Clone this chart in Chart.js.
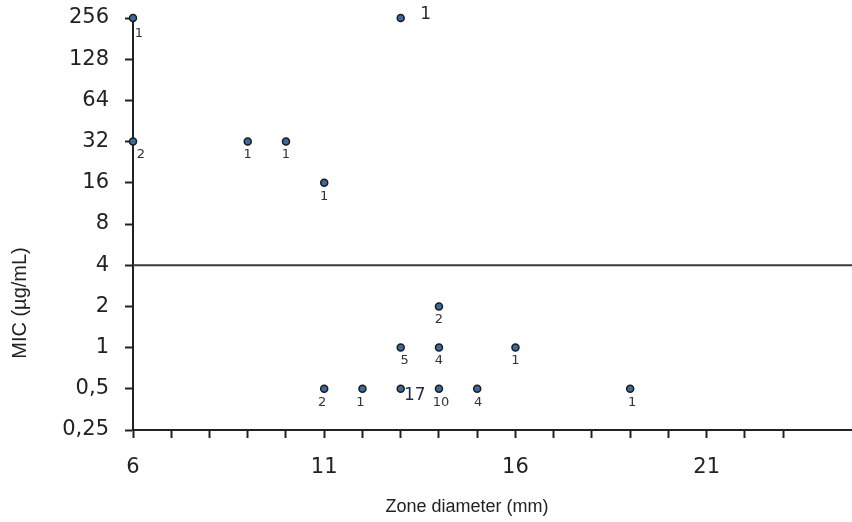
<!DOCTYPE html>
<html>
<head>
<meta charset="utf-8">
<script src="https://cdn.jsdelivr.net/npm/chart.js@4.4.1/dist/chart.umd.min.js"></script>
<style>
  html, body { margin: 0; padding: 0; background: #fff; }
  #wrap { position: relative; width: 852px; height: 522px; }
</style>
</head>
<body>
<div id="wrap"><canvas id="micChart"></canvas></div>
<script>
// zone diameter (mm), MIC (ug/mL) and number of isolates at each point
const zoneDiameter = [6, 6, 9, 10, 11, 13, 14, 13, 14, 16, 11, 12, 13, 14, 15, 19];
const micValue = [256, 32, 32, 32, 16, 256, 2, 1, 1, 1, 0.5, 0.5, 0.5, 0.5, 0.5, 0.5];
const isolateCount = [1, 2, 1, 1, 1, 1, 2, 5, 4, 1, 2, 1, 17, 10, 4, 1];

const yTicks = [0.25, 0.5, 1, 2, 4, 8, 16, 32, 64, 128, 256];
const xLabelled = [6, 11, 16, 21];
const breakpoint = 4;

// where each count label sits next to its point
const labelOffsets = [[6, 16], [8, 13], [0, 13], [0, 13], [0, 14], [25, -3], [0, 13],
  [4, 13], [0, 13], [0, 13], [-2, 14], [-2, 14], [14, 7], [2, 14], [1, 14], [2, 14]];
const bigLabels = [5, 12];

const countLabels = {
  id: 'countLabels',
  afterDatasetsDraw(chart) {
    const meta = chart.getDatasetMeta(1);
    const ctx = chart.ctx;
    ctx.save();
    ctx.textAlign = 'center';
    ctx.textBaseline = 'middle';
    meta.data.forEach((pt, i) => {
      const big = bigLabels.includes(i);
      ctx.font = big ? '17px "DejaVu Sans"' : '13px "DejaVu Sans"';
      ctx.fillStyle = big ? '#1f2a44' : '#333';
      ctx.fillText(String(isolateCount[i]), pt.x + labelOffsets[i][0], pt.y + labelOffsets[i][1]);
    });
    ctx.restore();
  }
};

const axisTitles = {
  id: 'axisTitles',
  afterDraw(chart) {
    const ctx = chart.ctx;
    ctx.save();
    ctx.fillStyle = '#222';
    ctx.textAlign = 'center';
    ctx.textBaseline = 'middle';
    ctx.font = '18px "Liberation Sans", sans-serif';
    ctx.fillText('Zone diameter (mm)', 467, 507);
    ctx.translate(20, 303);
    ctx.rotate(-Math.PI / 2);
    ctx.font = '20px "Liberation Sans", sans-serif';
    ctx.fillText('MIC (µg/mL)', 0, 0);
    ctx.restore();
  }
};

const points = zoneDiameter.map((x, i) => ({ x: x, y: micValue[i] }));

new Chart(document.getElementById('micChart'), {
  type: 'scatter',
  data: {
    datasets: [{
      type: 'line',
      data: [{ x: 6, y: breakpoint }, { x: 24.8, y: breakpoint }],
      borderColor: '#3a3a3a',
      borderWidth: 2,
      pointRadius: 0,
      fill: false
    }, {
      data: points,
      clip: false,
      pointRadius: 3.5,
      pointBackgroundColor: '#3d6a9c',
      pointBorderColor: '#1b1b1b',
      pointBorderWidth: 1.5
    }]
  },
  options: {
    responsive: true,
    maintainAspectRatio: false,
    animation: false,
    layout: { autoPadding: false, padding: { top: 18, right: 0, left: 0, bottom: 0 } },
    plugins: { legend: false, tooltip: { enabled: false } },
    scales: {
      x: {
        type: 'linear',
        min: 6,
        max: 24.8,
        afterBuildTicks: s => { s.ticks = s.ticks.filter(t => Number.isInteger(t.value)); },
        afterFit: s => { s.height = 92; s.paddingLeft = 0; s.paddingRight = 0; },
        border: { color: '#222', width: 2 },
        grid: { drawOnChartArea: false, tickLength: 8, tickColor: '#222', tickWidth: 2 },
        ticks: {
          stepSize: 1,
          autoSkip: false,
          maxRotation: 0,
          padding: 17,
          color: '#222',
          font: { family: 'DejaVu Sans', size: 21 },
          callback: v => xLabelled.includes(v) ? String(v) : ''
        }
      },
      y: {
        type: 'logarithmic',
        min: 0.25,
        max: 256,
        afterBuildTicks: s => { s.ticks = yTicks.map(v => ({ value: v })); },
        afterFit: s => { s.width = 133; s.paddingTop = 0; s.paddingBottom = 0; },
        border: { color: '#222', width: 2 },
        grid: { drawOnChartArea: false, tickLength: 8, tickColor: '#222', tickWidth: 2 },
        ticks: {
          padding: 16,
          color: '#222',
          font: { family: 'DejaVu Sans', size: 21 },
          callback: v => String(v).replace('.', ',')
        }
      }
    }
  },
  plugins: [countLabels, axisTitles]
});
</script>
</body>
</html>
